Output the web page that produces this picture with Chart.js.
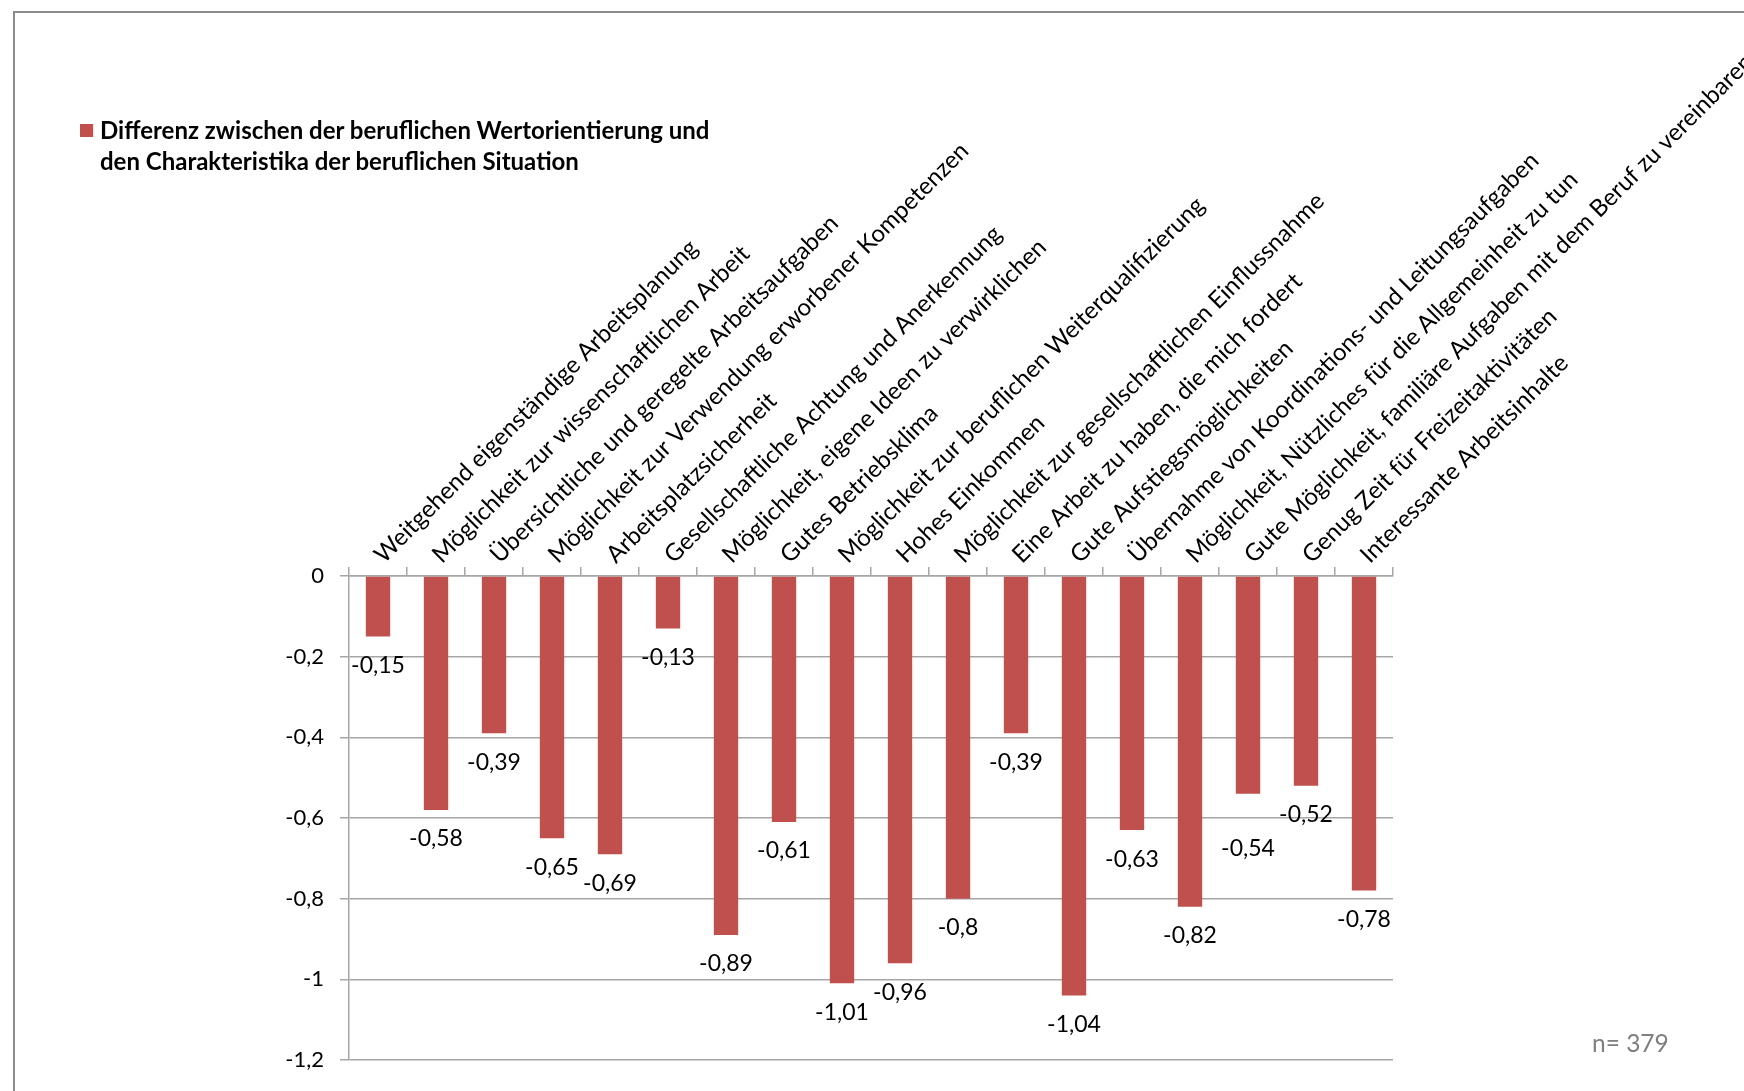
<!DOCTYPE html>
<html>
<head>
<meta charset="utf-8">
<title>Differenz Wertorientierung</title>
<script src="https://cdn.jsdelivr.net/npm/chart.js"></script>
<style>
  body { margin: 0; overflow: hidden; background: #fff; }
  #quadro { position: absolute; left: 13px; top: 11px; width: 1900px; height: 1300px; border: 2px solid #8c8c8c; }
  #grafico { position: absolute; left: 0; top: 0; }
  #legenda { position: absolute; left: 80px; top: 114px; font: bold 24px Lato; line-height: 31px; color: #000; }
  #legenda .cor { position: absolute; left: 0; top: 10px; width: 13px; height: 13px; background: #C0504D; }
  #legenda .txt { margin-left: 20px; }
  #amostra { position: absolute; left: 1592px; top: 1028px; font: 24.5px Lato; color: #7f7f7f; }
</style>
</head>
<body>
<div id="quadro"></div>
<canvas id="grafico" width="1744" height="1091"></canvas>
<div id="legenda"><span class="cor"></span><div class="txt">Differenz zwischen der beruflichen Wertorientierung und<br>den Charakteristika der beruflichen Situation</div></div>
<div id="amostra">n= 379</div>
<script>
// dados
const categorias = [
  'Weitgehend eigenständige Arbeitsplanung',
  'Möglichkeit zur wissenschaftlichen Arbeit',
  'Übersichtliche und geregelte Arbeitsaufgaben',
  'Möglichkeit zur Verwendung erworbener Kompetenzen',
  'Arbeitsplatzsicherheit',
  'Gesellschaftliche Achtung und Anerkennung',
  'Möglichkeit, eigene Ideen zu verwirklichen',
  'Gutes Betriebsklima',
  'Möglichkeit zur beruflichen Weiterqualifizierung',
  'Hohes Einkommen',
  'Möglichkeit zur gesellschaftlichen Einflussnahme',
  'Eine Arbeit zu haben, die mich fordert',
  'Gute Aufstiegsmöglichkeiten',
  'Übernahme von Koordinations- und Leitungsaufgaben',
  'Möglichkeit, Nützliches für die Allgemeinheit zu tun',
  'Gute Möglichkeit, familiäre Aufgaben mit dem Beruf zu vereinbaren',
  'Genug Zeit für Freizeitaktivitäten',
  'Interessante Arbeitsinhalte'
];
const valores = [-0.15, -0.58, -0.39, -0.65, -0.69, -0.13, -0.89, -0.61, -1.01, -0.96, -0.8, -0.39, -1.04, -0.63, -0.82, -0.54, -0.52, -0.78];
const serieNome = 'Differenz zwischen der beruflichen Wertorientierung und den Charakteristika der beruflichen Situation';
const eixoMin = -1.2;
const eixoMax = 0;
const eixoPasso = 0.2;

function formatar(v) {
  return String(Math.round(v * 100) / 100).replace('.', ',');
}

// rotulos de valor abaixo de cada barra
const rotulos = {
  id: 'rotulos',
  afterDatasetsDraw(chart) {
    const ctx = chart.ctx;
    const meta = chart.getDatasetMeta(0);
    const ys = meta.data.map(function (barra) { return barra.y + 29; });
    // empurra para baixo quando encosta no vizinho da direita
    for (let i = 0; i < ys.length - 1; i++) {
      if (Math.abs(ys[i] - ys[i + 1]) < 12) {
        ys[i] = ys[i + 1] + 34;
      }
    }
    ctx.save();
    ctx.font = '23px Lato';
    ctx.fillStyle = '#000';
    ctx.textAlign = 'center';
    ctx.textBaseline = 'middle';
    meta.data.forEach(function (barra, i) {
      ctx.fillText(formatar(valores[i]), barra.x, ys[i]);
    });
    ctx.restore();
  }
};

const cinza = '#a6a6a6';

new Chart(document.getElementById('grafico'), {
  type: 'bar',
  data: {
    labels: categorias,
    datasets: [{
      label: serieNome,
      data: valores,
      backgroundColor: '#C0504D',
      categoryPercentage: 1,
      barPercentage: 0.42
    }]
  },
  options: {
    responsive: false,
    animation: false,
    layout: { padding: { left: 0, top: 0, right: 351, bottom: 31 } },
    plugins: {
      legend: { display: false },
      tooltip: { enabled: false }
    },
    scales: {
      x: {
        position: 'top',
        grid: { offset: true, drawOnChartArea: false, tickLength: 9, color: cinza, lineWidth: 1.5 },
        border: { color: cinza, width: 1.5 },
        ticks: {
          autoSkip: false,
          minRotation: 45,
          maxRotation: 45,
          padding: -2,
          labelOffset: 21,
          color: '#000',
          font: { family: 'Lato', size: 24 }
        },
        afterFit(s) {
          s.height = 576;
          s.paddingLeft = 0;
          s.paddingRight = 0;
        }
      },
      y: {
        min: eixoMin,
        max: eixoMax,
        grid: { color: cinza, tickLength: 9, lineWidth: 1.5 },
        border: { color: cinza, width: 1.5 },
        ticks: {
          stepSize: eixoPasso,
          padding: 16,
          color: '#000',
          font: { family: 'Lato', size: 22 },
          callback: function (v) { return formatar(v); }
        },
        afterFit(s) {
          s.width = 349;
        }
      }
    }
  },
  plugins: [rotulos]
});
</script>
</body>
</html>
